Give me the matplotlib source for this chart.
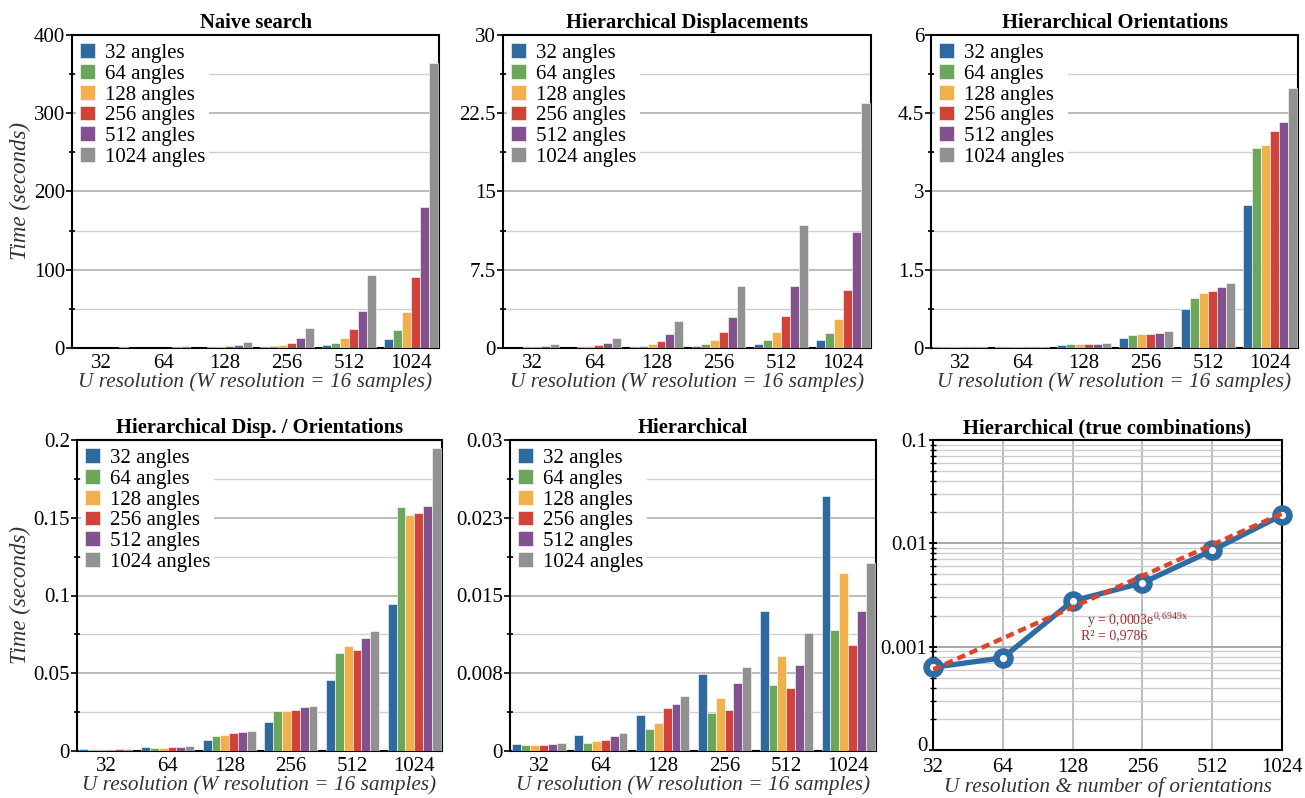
import numpy as np
import matplotlib
matplotlib.use("Agg")
import matplotlib.pyplot as plt
from matplotlib.ticker import FixedLocator, NullFormatter, LogLocator
from matplotlib.transforms import ScaledTranslation

plt.rcParams['font.family'] = ['Liberation Serif', 'DejaVu Serif']
plt.rcParams['mathtext.fontset'] = 'custom'
plt.rcParams['mathtext.rm'] = 'Liberation Serif'
plt.rcParams['mathtext.it'] = 'Liberation Serif:italic'

# ---------------- data ----------------
resolutions = ["32", "64", "128", "256", "512", "1024"]
angle_labels = ["32 angles", "64 angles", "128 angles", "256 angles", "512 angles", "1024 angles"]
colors = ["#2F6A9E", "#6BA65A", "#F0B04B", "#D0423A", "#83528E", "#919191"]

# rows: angle count, columns: U resolution
naive = [
    [0.1, 0.1, 0.4, 0.9, 3.4, 11.0],
    [0.1, 0.2, 0.8, 2.1, 6.4, 22.6],
    [0.2, 0.4, 0.9, 3.4, 12.4, 45.6],
    [0.3, 0.6, 2.0, 6.4, 23.9, 90.4],
    [0.5, 1.0, 3.4, 12.4, 46.9, 180.0],
    [1.0, 2.2, 7.2, 25.2, 93.0, 364.0],
]
hier_disp = [
    [0.02, 0.03, 0.06, 0.16, 0.35, 0.74],
    [0.03, 0.05, 0.16, 0.35, 0.74, 1.44],
    [0.05, 0.16, 0.35, 0.74, 1.50, 2.75],
    [0.08, 0.26, 0.67, 1.53, 3.07, 5.53],
    [0.19, 0.48, 1.34, 2.97, 5.95, 11.1],
    [0.38, 0.93, 2.56, 5.95, 11.8, 23.5],
]
hier_orient = [
    [0.010, 0.015, 0.05, 0.19, 0.74, 2.74],
    [0.010, 0.015, 0.07, 0.24, 0.95, 3.83],
    [0.010, 0.015, 0.07, 0.26, 1.05, 3.89],
    [0.010, 0.015, 0.07, 0.26, 1.09, 4.16],
    [0.010, 0.015, 0.07, 0.28, 1.16, 4.34],
    [0.010, 0.015, 0.09, 0.32, 1.24, 4.98],
]
hier_disp_orient = [
    [0.0011, 0.0024, 0.0069, 0.0185, 0.0455, 0.0944],
    [0.0004, 0.0017, 0.0094, 0.0255, 0.0629, 0.1570],
    [0.0004, 0.0017, 0.0101, 0.0255, 0.0674, 0.1520],
    [0.0004, 0.0024, 0.0114, 0.0262, 0.0648, 0.1530],
    [0.0010, 0.0024, 0.0120, 0.0281, 0.0725, 0.1575],
    [0.0010, 0.0030, 0.0127, 0.0288, 0.0770, 0.1950],
]
hierarchical = [
    [0.00064, 0.00151, 0.00344, 0.00740, 0.01349, 0.02460],
    [0.00055, 0.00074, 0.00209, 0.00364, 0.00634, 0.01165],
    [0.00055, 0.00093, 0.00267, 0.00509, 0.00914, 0.01716],
    [0.00055, 0.00103, 0.00412, 0.00393, 0.00605, 0.01020],
    [0.00064, 0.00142, 0.00450, 0.00653, 0.00827, 0.01349],
    [0.00074, 0.00171, 0.00528, 0.00808, 0.01136, 0.01812],
]
true_combinations = [0.00063, 0.00078, 0.00277, 0.00414, 0.00855, 0.01875]
trend_a = 0.0003
trend_b = 0.6949

panels = [
    ("Naive search", naive, [0, 100, 200, 300, 400], ["0", "100", "200", "300", "400"]),
    ("Hierarchical Displacements", hier_disp, [0, 7.5, 15, 22.5, 30], ["0", "7.5", "15", "22.5", "30"]),
    ("Hierarchical Orientations", hier_orient, [0, 1.5, 3, 4.5, 6], ["0", "1.5", "3", "4.5", "6"]),
    ("Hierarchical Disp. / Orientations", hier_disp_orient, [0, 0.05, 0.1, 0.15, 0.2], ["0", "0.05", "0.1", "0.15", "0.2"]),
    ("Hierarchical", hierarchical, [0, 0.0075, 0.015, 0.0225, 0.03], ["0", "0.008", "0.015", "0.023", "0.03"]),
]

W, H = 1305, 798
fig = plt.figure(figsize=(W / 100, H / 100), dpi=100)

def ax_px(l, r, t, b):
    return fig.add_axes([l / W, 1 - b / H, (r - l) / W, (b - t) / H])

rects = [
    (72, 439, 35, 348),
    (503, 871, 35, 348),
    (931, 1298, 35, 348),
    (77, 442, 440, 751),
    (510, 876, 440, 751),
    (933, 1282, 440, 750),
]

TICK_FS = 15
LEG_FS = 15
XLAB_FS = 15.3
YLAB_FS = 16.5
TITLE_FS = 14.8

group_w = 0.86
n = len(angle_labels)
bw = group_w / n
x = np.arange(len(resolutions))

for i, (title, data, yt, ytl) in enumerate(panels):
    ax = ax_px(*rects[i])
    for k in range(n):
        ax.bar(x - group_w / 2 + bw * (k + 0.5), data[k], width=bw, color=colors[k],
               edgecolor="white", linewidth=0.4, label=angle_labels[k], zorder=3)
    ax.set_xlim(-0.47, 5.45)
    ax.set_ylim(yt[0], yt[-1])
    ax.set_xticks(x)
    ax.set_xticklabels(resolutions, fontsize=TICK_FS)
    ax.set_yticks(yt)
    ax.set_yticklabels(ytl, fontsize=TICK_FS)
    minors = [(yt[j] + yt[j + 1]) / 2 for j in range(len(yt) - 1)]
    ax.yaxis.set_minor_locator(FixedLocator(minors))
    ax.grid(axis="y", which="major", color="#B4B4B4", linewidth=1.3, zorder=0)
    ax.grid(axis="y", which="minor", color="#CFCFCF", linewidth=1.0, zorder=0)
    ax.set_axisbelow(True)
    ax.tick_params(axis="x", length=0, pad=4)
    ax.tick_params(axis="y", which="major", direction="out", length=4, width=1.2, pad=1)
    ax.tick_params(axis="y", which="minor", direction="inout", length=4, width=1.2)
    for s in ax.spines.values():
        s.set_linewidth(1.5)
    ax.set_title(title, fontsize=TITLE_FS, fontweight="bold", pad=5)
    ax.set_xlabel("U resolution (W resolution = 16 samples)", fontsize=XLAB_FS, style="italic",
                  labelpad=0, color="#333333")
    if i in (0, 3):
        ax.set_ylabel("Time (seconds)", fontsize=YLAB_FS, style="italic", labelpad=2, color="#333333")
    leg = ax.legend(loc="upper left", fontsize=LEG_FS, frameon=True, fancybox=False,
                    framealpha=1, edgecolor="none", borderpad=0.2, labelspacing=0.05,
                    handlelength=0.72, handleheight=0.72, handletextpad=0.45,
                    borderaxespad=0.2)
    leg.set_zorder(5)

# ---------- log panel ----------
ax = ax_px(*rects[5])
ax.set_yscale("log")
ax.set_ylim(1e-4, 1e-1)
ax.set_xlim(0, 5)
ax.set_xticks(x)
ax.set_xticklabels(resolutions, fontsize=TICK_FS)
ax.set_yticks([1e-4, 1e-3, 1e-2, 1e-1])
ax.set_yticklabels(["0", "0.001", "0.01", "0.1"], fontsize=TICK_FS)
ax.yaxis.set_minor_locator(LogLocator(base=10, subs=np.arange(2, 10)))
ax.yaxis.set_minor_formatter(NullFormatter())
ax.grid(axis="y", which="major", color="#A8A8A8", linewidth=1.4, zorder=0)
ax.grid(axis="y", which="minor", color="#CCCCCC", linewidth=1.0, zorder=0)
ax.grid(axis="x", which="major", color="#B8B8B8", linewidth=1.3, zorder=0)
ax.tick_params(axis="x", length=0, pad=6)
ax.tick_params(axis="y", which="major", direction="inout", length=6, width=1.3, pad=1)
ax.tick_params(axis="y", which="minor", direction="inout", length=4, width=1.0)
ylabs = ax.get_yticklabels()
ylabs[0].set_transform(ylabs[0].get_transform() + ScaledTranslation(0, 4 / 72, fig.dpi_scale_trans))
for s in ax.spines.values():
    s.set_linewidth(1.5)

ax.plot(x, true_combinations, color="#2E6DA4", linewidth=3.8, marker="o",
        markersize=10, markerfacecolor="white", markeredgecolor="#2E6DA4",
        markeredgewidth=4.8, zorder=3, clip_on=False)
xt = np.linspace(0, 5, 50)
ax.plot(xt, trend_a * np.exp(trend_b * (xt + 1)), color="#E0452C", linewidth=3.2,
        linestyle=(0, (1.9, 1.1)), zorder=4)
ax.text(2.2, 10 ** -2.75, r"y = 0,0003e$^{\mathrm{0,6949x}}$", color="#9E2A2B", fontsize=10,
        ha="left", va="center", zorder=5)
ax.text(2.12, 10 ** -2.895, "R² = 0,9786", color="#9E2A2B", fontsize=10,
        ha="left", va="center", zorder=5)
ax.set_title("Hierarchical (true combinations)", fontsize=TITLE_FS, fontweight="bold", pad=5)
ax.set_xlabel("U resolution & number of orientations", fontsize=XLAB_FS, style="italic",
              labelpad=0, color="#333333")

fig.savefig("out.png", dpi=100)
